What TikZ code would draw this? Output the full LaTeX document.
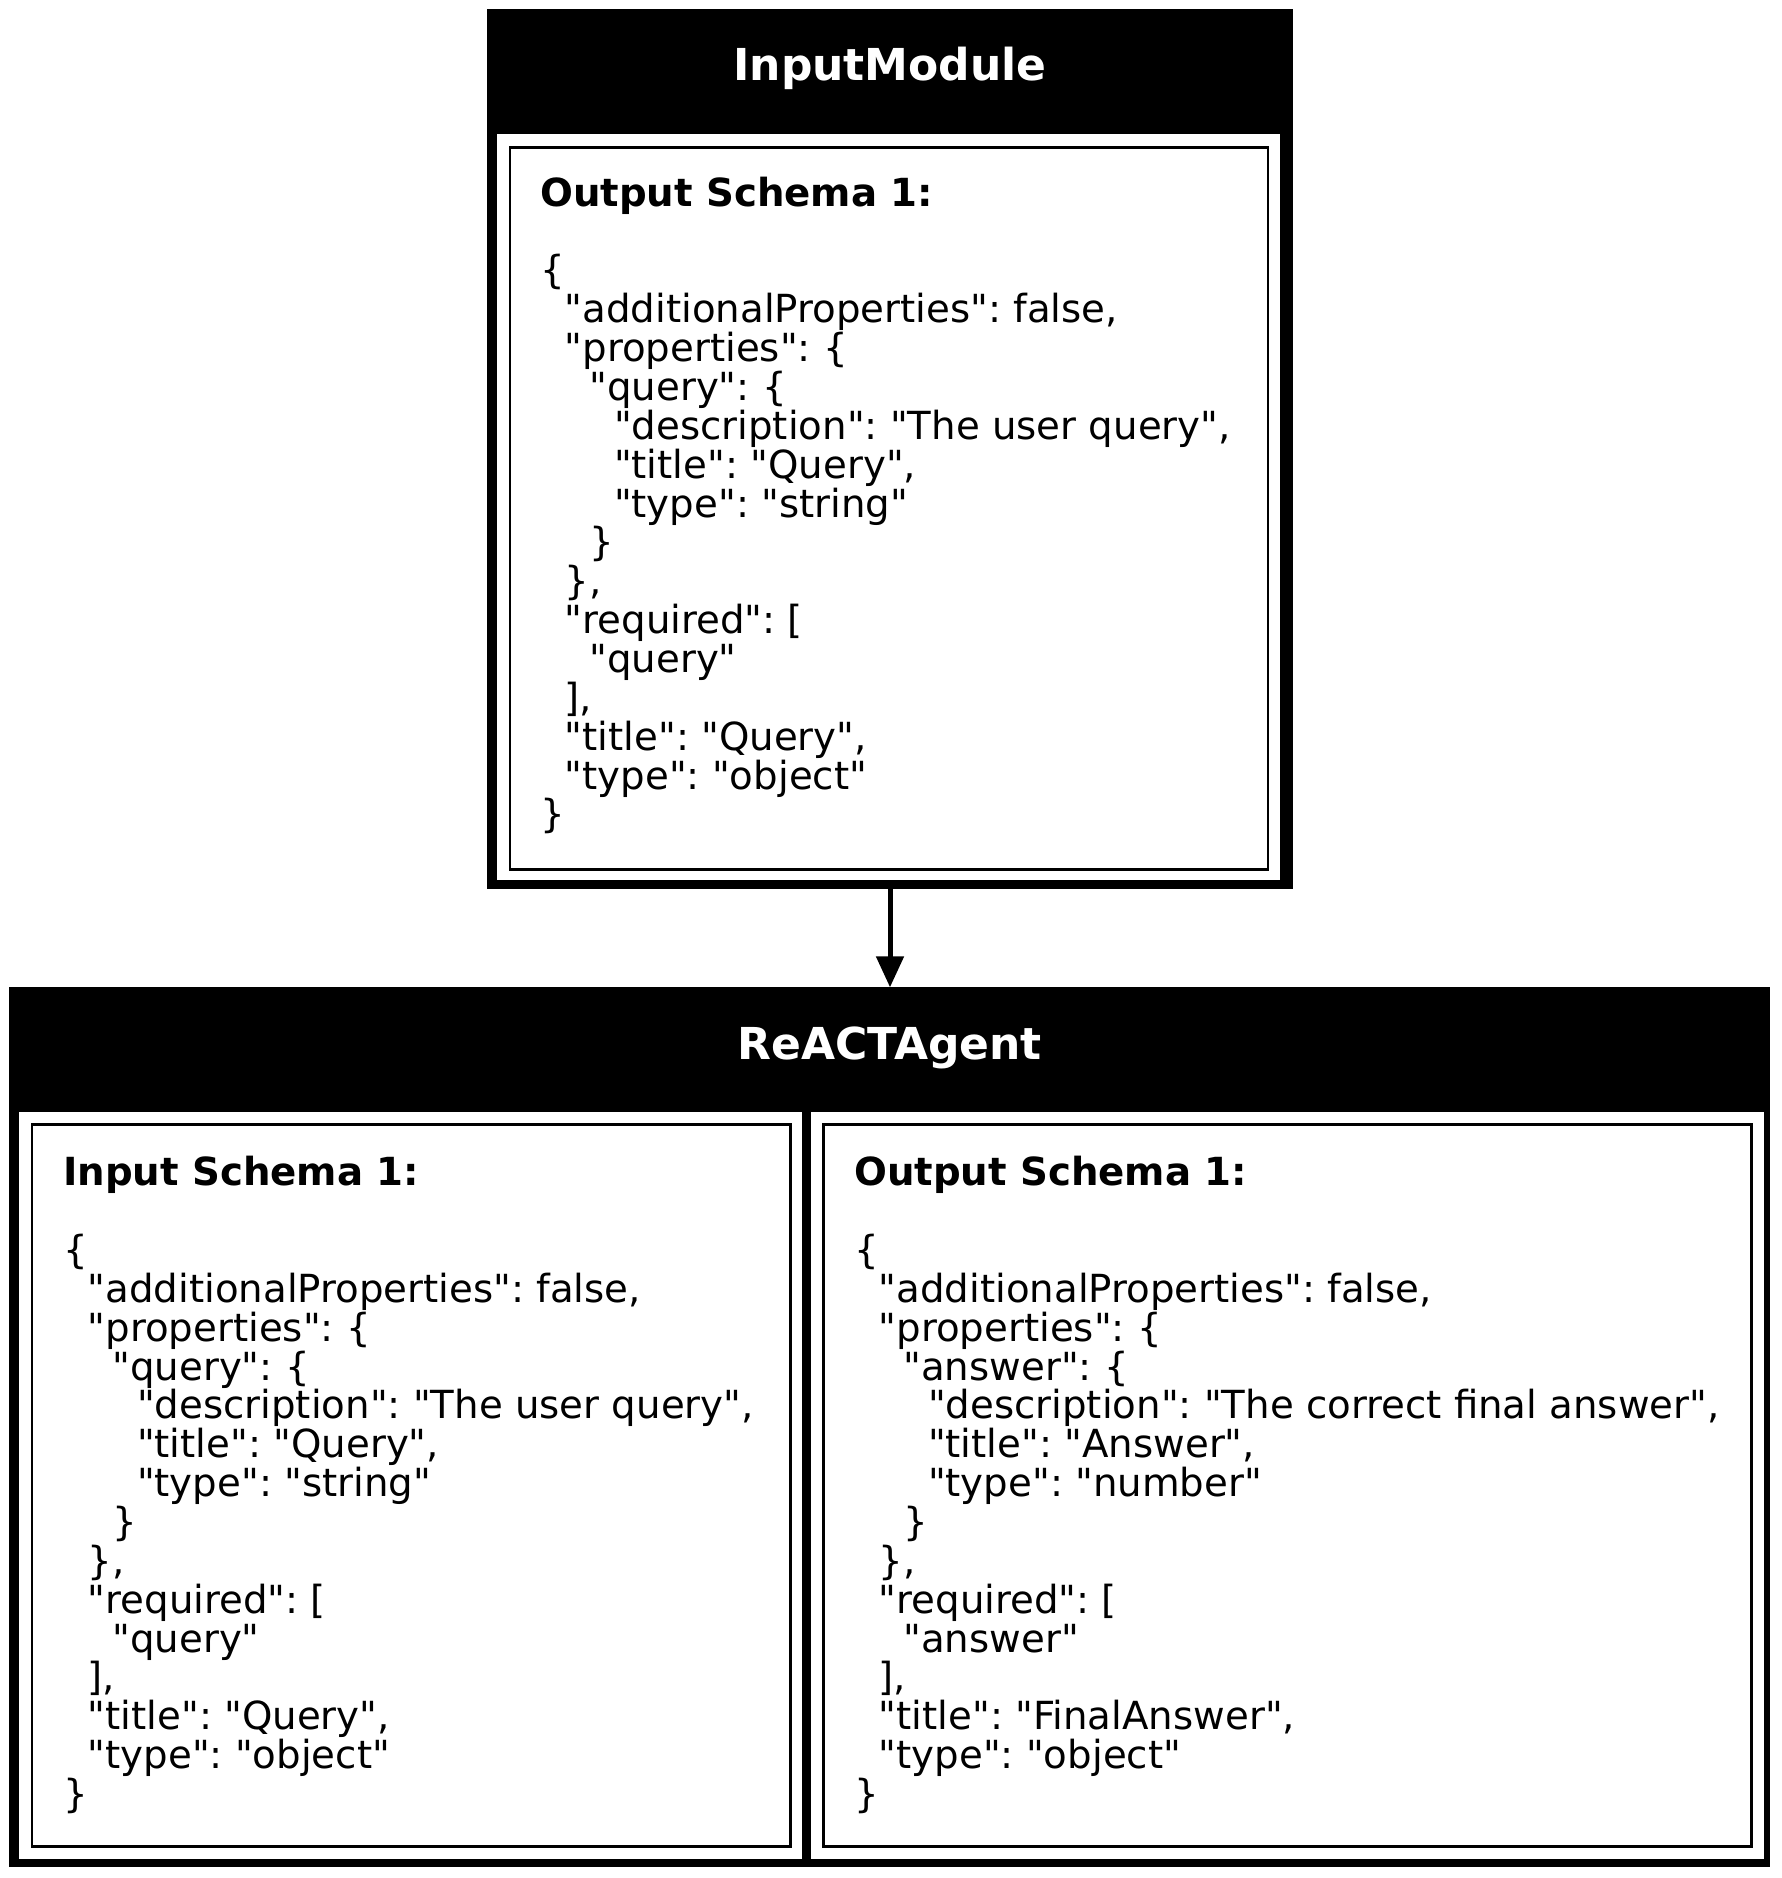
\documentclass[tikz,border=0pt]{standalone}
\usepackage{fontspec}
\setmainfont{DejaVu Sans}[Ligatures=TeXOff]
\usetikzlibrary{arrows.meta}
\newcommand\jind[1]{\hspace*{\dimexpr #1\fontdimen2\font*2\relax}}
\tikzset{
  outerbox/.style={rectangle, fill=black, draw=none, inner sep=0pt, outer sep=0pt},
  innerpanel/.style={rectangle, fill=white, draw=none, inner sep=0pt, outer sep=0pt},
  schemacell/.style={rectangle, draw=black, line width=2.7pt, fill=white, inner sep=0pt, outer sep=0pt},
  hdrtext/.style={text=white, inner sep=0pt, anchor=base, font=\fontsize{44}{50}\selectfont\bfseries},
  schematext/.style={inner sep=0pt, anchor=base west, text=black, font=\fontsize{38.7}{38.85}\selectfont\frenchspacing},
  flowedge/.style={line width=5pt, draw=black, -{Triangle[length=31pt,width=27pt]}},
}
\begin{document}
\begin{tikzpicture}[x=1pt,y=-1pt]
\useasboundingbox (0,0) rectangle (1781,1878);
% ---------- InputModule ----------
\node[outerbox, minimum width=805.4pt, minimum height=880pt] (inputmodule) at (890,449.3) {};
\node[hdrtext] (inputmoduletitle) at (890,81) {InputModule};
\node[innerpanel, minimum width=783.6pt, minimum height=745.7pt] (inputmodulepanel) at (888.5,507.15) {};
\node[schemacell, minimum width=758pt, minimum height=722.2pt] (inputmodulecell) at (889,508.4) {};
\node[schematext] (inputmoduletext) at (540,206.3) {\parbox[t]{1000pt}{%
\textbf{Output Schema 1:}\\
\mbox{}\\
\{\\
\jind{1}"additionalProperties": false,\\
\jind{1}"properties": \{\\
\jind{2}"query": \{\\
\jind{3}"description": "The user query",\\
\jind{3}"title": "Query",\\
\jind{3}"type": "string"\\
\jind{2}\}\\
\jind{1}\},\\
\jind{1}"required": [\\
\jind{2}"query"\\
\jind{1}],\\
\jind{1}"title": "Query",\\
\jind{1}"type": "object"\\
\}}};
% ---------- ReACTAgent ----------
\node[outerbox, minimum width=1760.7pt, minimum height=880pt] (reactagent) at (889.65,1427.3) {};
\node[hdrtext] (reactagenttitle) at (889.7,1059.3) {ReACTAgent};
\node[innerpanel, minimum width=783pt, minimum height=747pt] (reactagentleftpanel) at (410.8,1485.8) {};
\node[innerpanel, minimum width=953pt, minimum height=747pt] (reactagentrightpanel) at (1287.5,1485.8) {};
\node[schemacell, minimum width=758.2pt, minimum height=722pt] (reactagentincell) at (411.1,1485.7) {};
\node[schemacell, minimum width=928pt, minimum height=722pt] (reactagentoutcell) at (1287.3,1485.7) {};
\node[schematext] (reactagentintext) at (63,1185.8) {\parbox[t]{1000pt}{%
\textbf{Input Schema 1:}\\
\mbox{}\\
\{\\
\jind{1}"additionalProperties": false,\\
\jind{1}"properties": \{\\
\jind{2}"query": \{\\
\jind{3}"description": "The user query",\\
\jind{3}"title": "Query",\\
\jind{3}"type": "string"\\
\jind{2}\}\\
\jind{1}\},\\
\jind{1}"required": [\\
\jind{2}"query"\\
\jind{1}],\\
\jind{1}"title": "Query",\\
\jind{1}"type": "object"\\
\}}};
\node[schematext] (reactagentouttext) at (854,1185.8) {\parbox[t]{1000pt}{%
\textbf{Output Schema 1:}\\
\mbox{}\\
\{\\
\jind{1}"additionalProperties": false,\\
\jind{1}"properties": \{\\
\jind{2}"answer": \{\\
\jind{3}"description": "The correct final answer",\\
\jind{3}"title": "Answer",\\
\jind{3}"type": "number"\\
\jind{2}\}\\
\jind{1}\},\\
\jind{1}"required": [\\
\jind{2}"answer"\\
\jind{1}],\\
\jind{1}"title": "FinalAnswer",\\
\jind{1}"type": "object"\\
\}}};
% ---------- connector ----------
\draw[flowedge] (inputmodule.south) -- (inputmodule.south |- reactagent.north);
\end{tikzpicture}
\end{document}
